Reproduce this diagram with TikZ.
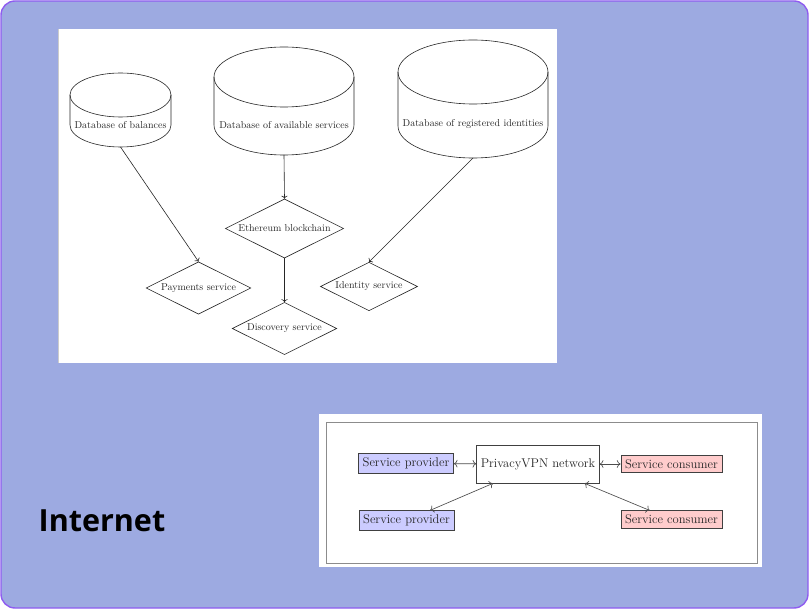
\documentclass[tikz,border=0pt]{standalone}
\usepackage{fontspec}
\newfontfamily\netzfont{Open Sans}
\usetikzlibrary{arrows.meta,shapes.geometric}
\definecolor{hgblau}{HTML}{9DAAE1}
\definecolor{rand}{HTML}{8F5CF0}
\definecolor{anbieter}{HTML}{CCCCFF}
\definecolor{nutzer}{HTML}{FFCCCC}
\definecolor{rahmen}{HTML}{8C8C8C}
\tikzset{
  hg/.style={fill=hgblau,draw=rand,line width=1.4pt,rounded corners=14pt},
  db/.style={black!85,line width=0.6pt},
  dbtext/.style={inner sep=0pt,text=black!85,font=\fontsize{10}{12}\selectfont},
  raute/.style={diamond,aspect=2,draw=black!85,text=black!85,inner sep=2pt,line width=0.6pt,font=\fontsize{10}{12}\selectfont},
  pfeil/.style={-To,black!85,line width=0.6pt},
  kasten/.style={draw=black!75,text=black!85,line width=0.65pt,inner sep=4.2pt,font=\fontsize{12.6}{15}\selectfont},
  dpfeil/.style={{To[scale=1.2]}-{To[scale=1.2]},black!70,line width=0.65pt},
}
\begin{document}
\begin{tikzpicture}[x=1pt,y=-1pt]
  \useasboundingbox (0,0) rectangle (809,609);
  \fill[white] (0,0) rectangle (809,609);
  \draw[hg] (1,1) rectangle (808,608);
  % linkes Bild
  \fill[white] (58,29) rectangle (557,363);
  \draw[black!20,line width=0.6pt] (58.3,29) -- (58.3,363);
  % Datenbanken
  \draw[db] (120.5,95) ellipse [x radius=50.5pt,y radius=22pt];
  \draw[db] (70,95) -- (70,125) arc[start angle=180,end angle=360,x radius=50.5pt,y radius=22pt] -- (171,95);
  \draw[db] (284,77) ellipse [x radius=70pt,y radius=30pt];
  \draw[db] (214,77) -- (214,125) arc[start angle=180,end angle=360,x radius=70pt,y radius=30pt] -- (354,77);
  \draw[db] (473,72) ellipse [x radius=75pt,y radius=32pt];
  \draw[db] (398,72) -- (398,126) arc[start angle=180,end angle=360,x radius=75pt,y radius=32pt] -- (548,72);
  \node[dbtext] (bal) at (120.5,125) {Database of balances};
  \node[dbtext] (dien) at (284,125) {Database of available services};
  \node[dbtext] (ident) at (473,124) {Database of registered identities};
  \coordinate (balU) at (120.5,147);
  \coordinate (dienU) at (284,155);
  \coordinate (identU) at (473,158);
  % Dienste
  \node[raute] (eth) at (284.5,228.5) {Ethereum blockchain};
  \node[raute] (pay) at (198.5,288) {Payments service};
  \node[raute] (disc) at (284.5,328.5) {Discovery service};
  \node[raute] (ids) at (369,286.5) {Identity service};
  \draw[pfeil] (balU) -- (pay.north);
  \draw[pfeil] (dienU) -- (eth.north);
  \draw[pfeil] (eth.south) -- (disc.north);
  \draw[pfeil] (identU) -- (ids.north);
  % rechtes Bild
  \fill[white] (319,414) rectangle (762,567);
  \draw[rahmen,line width=0.8pt] (326,422) rectangle (757,563);
  \node[kasten,fill=anbieter] (sp1) at (406,463.5) {Service provider};
  \node[kasten,fill=white,minimum height=38pt] (vpn) at (538,464) {PrivacyVPN network};
  \node[kasten,fill=nutzer] (sc1) at (671.5,464) {Service consumer};
  \node[kasten,fill=anbieter] (sp2) at (406.5,520.5) {Service provider};
  \node[kasten,fill=nutzer] (sc2) at (671.5,519.5) {Service consumer};
  \draw[dpfeil] (sp1) -- (vpn);
  \draw[dpfeil] (vpn) -- (sc1);
  \draw[dpfeil] (sp2) -- (vpn);
  \draw[dpfeil] (vpn) -- (sc2);
  % Beschriftung
  \node[font=\netzfont\bfseries\fontsize{30.5}{36}\selectfont,anchor=base west,inner sep=0pt] (netz) at (38.5,532) {Internet};
\end{tikzpicture}
\end{document}
